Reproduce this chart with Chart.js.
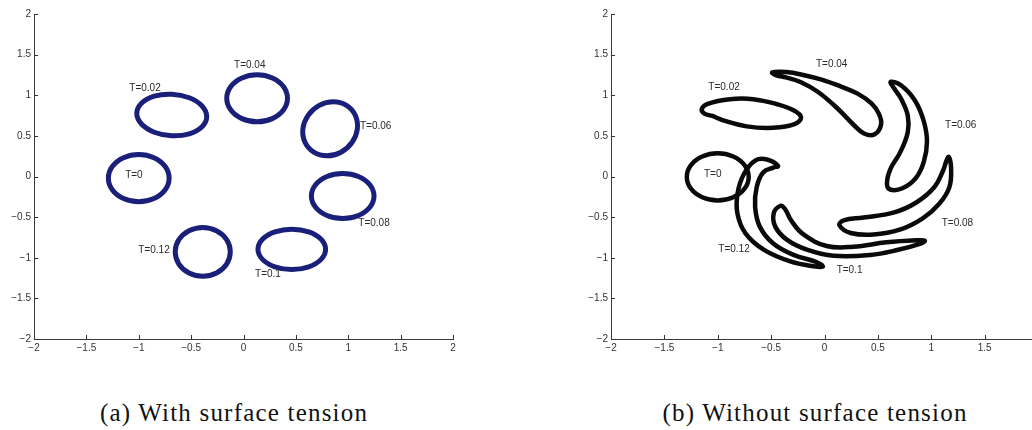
<!DOCTYPE html>
<html>
<head>
<meta charset="utf-8">
<script src="https://cdn.jsdelivr.net/npm/chart.js@4.4.0/dist/chart.umd.min.js"></script>
<style>
  html, body { margin: 0; padding: 0; background: #fff; width: 1032px; height: 430px; overflow: hidden; position: relative; }
  canvas { position: absolute; top: 0; }
  #chartA { left: 0; }
  #chartB { left: 560px; }
  .caption {
    position: absolute; top: 400px; line-height: 25px; white-space: nowrap;
    font-family: "Liberation Serif", "Times New Roman", serif; font-size: 25px; letter-spacing: 1.2px;
    color: #111; transform: translateX(-50%);
  }
</style>
</head>
<body>
<canvas id="chartA" width="480" height="360"></canvas>
<canvas id="chartB" width="500" height="360"></canvas>
<div class="caption" style="left:234px">(a) With surface tension</div>
<div class="caption" style="left:815px">(b) Without surface tension</div>
<script>
// axis ticks, both panels
const tickValues = [-2, -1.5, -1, -0.5, 0, 0.5, 1, 1.5, 2];
const tLabels = ['T=0', 'T=0.02', 'T=0.04', 'T=0.06', 'T=0.08', 'T=0.1', 'T=0.12'];

// (a) with surface tension: interface outline at each time, [x, y]
const aT0   = [[-0.71,-0.02],[-0.749,0.125],[-0.855,0.231],[-1.0,0.27],[-1.145,0.231],[-1.251,0.125],[-1.29,-0.02],[-1.251,-0.165],[-1.145,-0.271],[-1.0,-0.31],[-0.855,-0.271],[-0.749,-0.165]];
const aT002 = [[-0.351,0.737],[-0.396,0.868],[-0.518,0.969],[-0.685,1.013],[-0.852,0.989],[-0.974,0.902],[-1.019,0.777],[-0.974,0.646],[-0.852,0.545],[-0.685,0.501],[-0.518,0.525],[-0.396,0.612]];
const aT004 = [[0.42,0.962],[0.381,1.107],[0.275,1.212],[0.13,1.251],[-0.015,1.212],[-0.121,1.107],[-0.16,0.962],[-0.121,0.817],[-0.015,0.712],[0.13,0.673],[0.275,0.712],[0.381,0.817]];
const aT006 = [[1.087,0.587],[1.067,0.753],[0.983,0.875],[0.857,0.919],[0.723,0.875],[0.617,0.753],[0.567,0.587],[0.587,0.421],[0.671,0.299],[0.797,0.255],[0.931,0.299],[1.037,0.421]];
const aT008 = [[1.246,-0.24],[1.206,-0.102],[1.097,0.0],[0.947,0.037],[0.797,0.0],[0.688,-0.102],[0.648,-0.24],[0.688,-0.379],[0.797,-0.48],[0.947,-0.517],[1.097,-0.48],[1.206,-0.379]];
const aT01  = [[0.784,-0.896],[0.741,-0.772],[0.623,-0.681],[0.461,-0.648],[0.3,-0.681],[0.181,-0.772],[0.138,-0.896],[0.181,-1.02],[0.3,-1.111],[0.461,-1.144],[0.623,-1.111],[0.741,-1.02]];
const aT012 = [[-0.126,-0.927],[-0.161,-0.777],[-0.258,-0.667],[-0.389,-0.627],[-0.52,-0.667],[-0.617,-0.777],[-0.652,-0.927],[-0.617,-1.077],[-0.52,-1.187],[-0.389,-1.227],[-0.258,-1.187],[-0.161,-1.077]];
const aLabelAt = [[-1.13,0.015],[-1.09,1.087],[-0.09,1.366],[1.112,0.619],[1.096,-0.575],[0.11,-1.198],[-1.004,-0.911]];

// (b) without surface tension
const bT0   = [[-0.71,-0.005],[-0.749,0.14],[-0.855,0.246],[-1.0,0.285],[-1.145,0.246],[-1.251,0.14],[-1.29,-0.005],[-1.251,-0.15],[-1.145,-0.256],[-1.0,-0.295],[-0.855,-0.256],[-0.749,-0.15]];
const bT002 = [[-1.15,0.83],[-1.095,0.895],[-0.885,0.952],[-0.667,0.952],[-0.45,0.892],[-0.29,0.815],[-0.22,0.73],[-0.275,0.648],[-0.48,0.6],[-0.729,0.617],[-0.948,0.69],[-1.05,0.745],[-1.125,0.775]];
const bT004 = [[-0.49,1.28],[-0.36,1.285],[-0.2,1.25],[-0.02,1.19],[0.15,1.11],[0.31,1.02],[0.44,0.9],[0.51,0.77],[0.53,0.64],[0.47,0.52],[0.37,0.53],[0.27,0.64],[0.12,0.84],[-0.06,1.04],[-0.22,1.16],[-0.36,1.22],[-0.45,1.245]];
const bT006 = [[0.62,1.165],[0.72,1.12],[0.85,0.93],[0.93,0.68],[0.96,0.43],[0.93,0.18],[0.855,-0.02],[0.73,-0.145],[0.615,-0.16],[0.585,-0.08],[0.62,0.1],[0.71,0.3],[0.78,0.545],[0.78,0.75],[0.72,0.95],[0.655,1.08]];
const bT008 = [[1.16,0.24],[1.185,0.12],[1.17,-0.13],[1.075,-0.335],[0.92,-0.515],[0.705,-0.655],[0.46,-0.715],[0.245,-0.695],[0.14,-0.6],[0.18,-0.54],[0.365,-0.505],[0.645,-0.445],[0.86,-0.32],[1.03,-0.13],[1.11,0.07]];
const bT01  = [[-0.41,-0.36],[-0.475,-0.45],[-0.46,-0.62],[-0.35,-0.78],[-0.165,-0.9],[0.085,-0.975],[0.43,-0.965],[0.68,-0.905],[0.9,-0.825],[0.94,-0.79],[0.86,-0.785],[0.58,-0.81],[0.27,-0.865],[0.02,-0.855],[-0.2,-0.71],[-0.31,-0.545],[-0.37,-0.4]];
const bT012 = [[-0.435,0.13],[-0.54,0.21],[-0.65,0.195],[-0.755,0.03],[-0.815,-0.213],[-0.815,-0.46],[-0.74,-0.7],[-0.57,-0.9],[-0.32,-1.045],[-0.1,-1.105],[-0.015,-1.11],[-0.07,-1.055],[-0.29,-0.965],[-0.48,-0.825],[-0.605,-0.62],[-0.65,-0.375],[-0.635,-0.13],[-0.575,0.05],[-0.48,0.11]];
const bLabelAt = [[-1.129,0.033],[-1.088,1.099],[-0.08,1.387],[1.129,0.628],[1.098,-0.575],[0.114,-1.157],[-0.995,-0.89]];

const loopsA = [aT0, aT002, aT004, aT006, aT008, aT01, aT012];
const loopsB = [bT0, bT002, bT004, bT006, bT008, bT01, bT012];

const sansFont = '"Liberation Sans", Arial, Helvetica, sans-serif';

// wrap the outline so the spline closes smoothly; the two wrap segments are hidden
function closeLoop(pts) {
  const n = pts.length;
  return [pts[n - 1], ...pts, pts[0], pts[1]].map(p => ({ x: p[0], y: p[1] }));
}

// matlab style: short ticks pointing into the plot
const inwardTicks = {
  id: 'inwardTicks',
  afterDraw(chart) {
    const { ctx, chartArea, scales } = chart;
    ctx.save();
    ctx.strokeStyle = '#333';
    ctx.lineWidth = 1;
    ctx.beginPath();
    scales.x.ticks.forEach(t => {
      const px = Math.round(scales.x.getPixelForValue(t.value)) + 0.5;
      ctx.moveTo(px, chartArea.bottom);
      ctx.lineTo(px, chartArea.bottom - 4);
    });
    scales.y.ticks.forEach(t => {
      const py = Math.round(scales.y.getPixelForValue(t.value)) + 0.5;
      ctx.moveTo(chartArea.left, py);
      ctx.lineTo(chartArea.left + 4, py);
    });
    ctx.stroke();
    ctx.restore();
  }
};

// the T=... annotations next to each outline
const timeLabels = {
  id: 'timeLabels',
  afterDatasetsDraw(chart, args, opts) {
    const { ctx, scales: { x, y } } = chart;
    ctx.save();
    ctx.font = '10px ' + sansFont;
    ctx.fillStyle = opts.color;
    ctx.textAlign = 'left';
    ctx.textBaseline = 'middle';
    opts.texts.forEach((t, i) => {
      ctx.fillText(t, x.getPixelForValue(opts.at[i][0]), y.getPixelForValue(opts.at[i][1]));
    });
    ctx.restore();
  }
};

function axis(fit) {
  return {
    type: 'linear', min: -2, max: 2,
    afterBuildTicks: s => { s.ticks = tickValues.map(v => ({ value: v })); },
    afterFit: fit,
    grid: { display: false, drawTicks: false },
    border: { display: true, color: '#3a3a3a', width: 1, dash: [3, 1] },
    ticks: {
      color: '#333', padding: 3, autoSkip: false, maxRotation: 0,
      font: { family: sansFont, size: 10 },
      callback: v => String(v).replace('-', '\u2212')
    }
  };
}

function makeChart(id, loops, color, lineWidth, labelAt, yWidth, rightPad) {
  new Chart(document.getElementById(id), {
    type: 'line',
    data: {
      datasets: loops.map((pts, i) => {
        const last = pts.length + 1;
        return {
          label: tLabels[i],
          data: closeLoop(pts),
          borderColor: color,
          borderWidth: lineWidth,
          borderCapStyle: 'round',
          borderJoinStyle: 'round',
          pointRadius: 0,
          tension: 0.4,
          fill: false,
          segment: {
            borderColor: c => (c.p0DataIndex === 0 || c.p0DataIndex === last) ? 'rgba(0,0,0,0)' : undefined
          }
        };
      })
    },
    options: {
      responsive: false,
      devicePixelRatio: 1,
      animation: false,
      layout: { padding: { left: 0, top: 14, right: rightPad, bottom: 0 } },
      scales: {
        x: axis(s => { s.height = 21; }),
        y: axis(s => { s.width = yWidth; })
      },
      plugins: {
        legend: { display: false },
        tooltip: { enabled: false },
        timeLabels: { texts: tLabels, at: labelAt, color: '#2a2a2a' }
      }
    },
    plugins: [inwardTicks, timeLabels]
  });
}

makeChart('chartA', loopsA, '#1a1f7a', 5, aLabelAt, 34, 27);
makeChart('chartB', loopsB, '#0a0a0a', 4.5, bLabelAt, 51, 22);
</script>
</body>
</html>
